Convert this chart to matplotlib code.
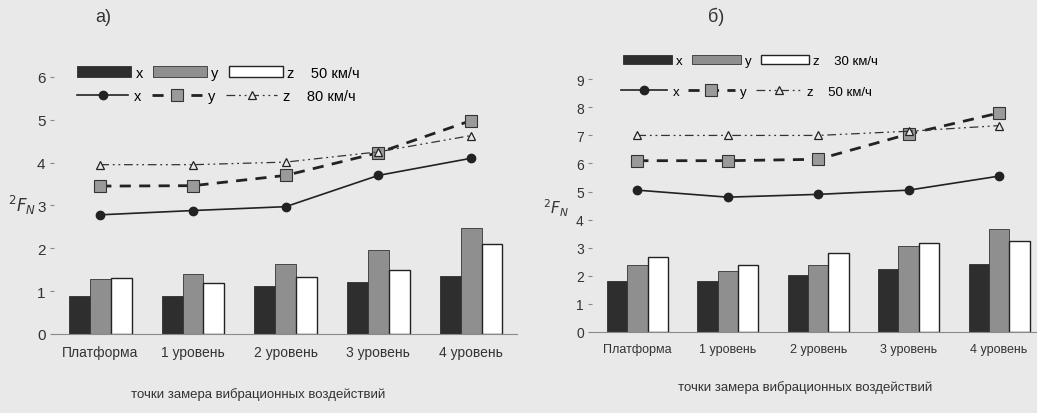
import numpy as np
import matplotlib.pyplot as plt

plt.rcParams['font.family'] = ['Liberation Sans', 'DejaVu Sans']

cats = ['Платформа', '1 уровень', '2 уровень', '3 уровень', '4 уровень']
xlabel = 'точки замера вибрационных воздействий'

# а) bars - 50 км/ч, lines - 80 км/ч
a_bar_x = [0.89, 0.89, 1.12, 1.21, 1.36]
a_bar_y = [1.28, 1.40, 1.64, 1.96, 2.48]
a_bar_z = [1.31, 1.19, 1.33, 1.50, 2.10]
a_line_x = [2.78, 2.88, 2.97, 3.70, 4.10]
a_line_y = [3.45, 3.46, 3.70, 4.23, 4.98]
a_line_z = [3.95, 3.95, 4.01, 4.25, 4.63]
a_ticks = [0, 1, 2, 3, 4, 5, 6]

# б) bars - 30 км/ч, lines - 50 км/ч
b_bar_x = [1.80, 1.80, 2.03, 2.24, 2.42]
b_bar_y = [2.38, 2.17, 2.38, 3.06, 3.67]
b_bar_z = [2.67, 2.38, 2.81, 3.17, 3.24]
b_line_x = [5.05, 4.80, 4.90, 5.05, 5.55]
b_line_y = [6.10, 6.10, 6.15, 7.05, 7.80]
b_line_z = [7.00, 7.00, 7.00, 7.15, 7.35]
b_ticks = [0, 1, 2, 3, 4, 5, 6, 7, 8, 9]

bg = '#e9e9e9'
fig = plt.figure(figsize=(10.37, 4.14), dpi=100, facecolor=bg)


def draw(ax, bx, by, bz, lx, ly, lz, ticks, ylim, xlim, v_bar, v_line, fs, lfs, leg1, leg2):
    pos = np.arange(len(cats))
    w = 0.225
    bars_x = ax.bar(pos - w, bx, w, color='#2e2e2e', edgecolor='#2e2e2e', lw=0.6)
    bars_y = ax.bar(pos, by, w, color='#8f8f8f', edgecolor='#333333', lw=0.6)
    bars_z = ax.bar(pos + w, bz, w, color='white', edgecolor='#222222', lw=1.0)

    lnx, = ax.plot(pos, lx, color='#222222', lw=1.2, marker='o', ms=6,
                   mfc='#222222', mec='#222222')
    lny, = ax.plot(pos, ly, color='#222222', lw=2.0, dashes=(4, 3), marker='s', ms=9,
                   mfc='#9a9a9a', mec='#333333', mew=0.8)
    lnz, = ax.plot(pos, lz, color='#333333', lw=0.9, dashes=(7, 3, 1.5, 3, 1.5, 3),
                   marker='^', ms=6, mfc=bg, mec='#222222', mew=0.9)

    ax.set_xlim(*xlim)
    ax.set_ylim(*ylim)
    ax.set_yticks(ticks)
    ax.set_xticks(pos)
    ax.set_xticklabels(cats, fontsize=fs - 1, color='#333333')
    ax.tick_params(axis='y', length=3, color='#888888', pad=3, labelsize=fs, labelcolor='#333333')
    ax.tick_params(axis='x', length=0, pad=8)
    for s in ['top', 'right', 'left']:
        ax.spines[s].set_visible(False)
    ax.spines['bottom'].set_color('#8a8a8a')
    ax.set_facecolor('none')

    l1 = ax.legend([bars_x, bars_y, bars_z], ['x', 'y', 'z    ' + v_bar], ncol=3,
                   frameon=False, loc='center left', bbox_to_anchor=leg1,
                   handlelength=3.7, handleheight=0.75, handletextpad=0.3,
                   columnspacing=0.7, fontsize=lfs, borderpad=0, borderaxespad=0)
    ax.add_artist(l1)
    ax.legend([lnx, lny, lnz], ['x', 'y', 'z    ' + v_line], ncol=3,
              frameon=False, loc='center left', bbox_to_anchor=leg2,
              handlelength=3.5, handletextpad=0.4, columnspacing=0.7,
              fontsize=lfs, borderpad=0, borderaxespad=0)


ax1 = fig.add_axes([0.052, 0.191, 0.447, 0.652])
draw(ax1, a_bar_x, a_bar_y, a_bar_z, a_line_x, a_line_y, a_line_z, a_ticks,
     (0, 6.3), (-0.5, 4.5), '50 км/ч', '80 км/ч', 11, 10.5, (0.05, 0.967), (0.05, 0.881))

ax2 = fig.add_axes([0.571, 0.196, 0.429, 0.671])
draw(ax2, b_bar_x, b_bar_y, b_bar_z, b_line_x, b_line_y, b_line_z, b_ticks,
     (0, 9.9), (-0.5, 4.42), '30 км/ч', '50 км/ч', 10, 9.5, (0.07, 0.975), (0.065, 0.865))

fig.text(95 / 1037, 1 - 17 / 414, 'а)', fontsize=13, color='#333333', va='center')
fig.text(708 / 1037, 1 - 17 / 414, 'б)', fontsize=13, color='#333333', va='center')

fig.text(8 / 1037, 1 - 205 / 414, r'$^{2}F_{N}$', fontsize=12, color='#333333', va='center')
fig.text(543 / 1037, 1 - 208 / 414, r'$^{2}F_{N}$', fontsize=11, color='#333333', va='center')

fig.text(258 / 1037, 1 - 395 / 414, xlabel, fontsize=9.5, color='#333333', ha='center', va='center')
fig.text(805 / 1037, 1 - 388 / 414, xlabel, fontsize=9.5, color='#333333', ha='center', va='center')

fig.savefig('out.png', dpi=100, facecolor=bg)
